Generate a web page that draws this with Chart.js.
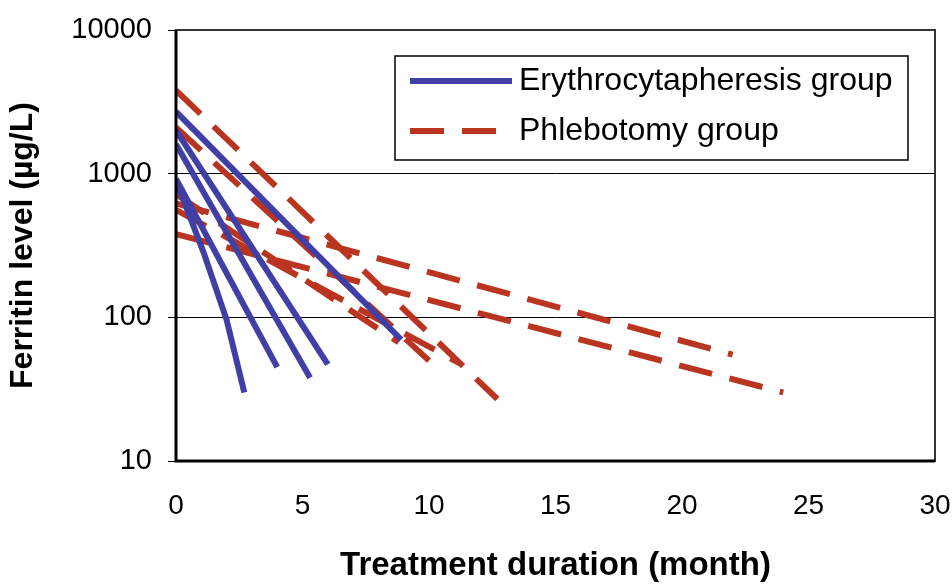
<!DOCTYPE html>
<html>
<head>
<meta charset="utf-8">
<script src="https://cdn.jsdelivr.net/npm/chart.js@4.4.1/dist/chart.umd.min.js"></script>
<style>
  html, body { margin:0; padding:0; background:#fff; }
  #wrap { position:relative; width:952px; height:584px; }
</style>
</head>
<body>
<div id="wrap"><canvas id="c"></canvas></div>
<script>
// ── axis ticks ──────────────────────────────────────────
const monthTicks = [0, 5, 10, 15, 20, 25, 30];
const ferritinTicks = [10, 100, 1000, 10000];

// ── erythrocytapheresis patients (month / ferritin µg/L) ──
const eryMonths   = [[0, 1.1, 2.0, 2.7], [0, 4.0], [0, 5.3], [0, 6.0], [0, 8.9]];
const eryFerritin = [[900, 280, 96, 30], [920, 45], [1600, 38], [2000, 47], [2700, 70]];

// ── phlebotomy patients ──
const phlMonths   = [[0, 12.7], [0, 10.0], [0, 8.8], [0, 11.2], [0, 22.0], [0, 24.0]];
const phlFerritin = [[3800, 27], [2100, 50], [720, 67], [560, 48], [620, 55], [380, 30]];

const BLUE = '#3f3fa6';
const RED = '#b9351f';
const FONT = "'Liberation Sans', Arial, sans-serif";

const toPts = (xs, ys) => xs.map((x, i) => ({ x, y: ys[i] }));

const datasets = [
  ...eryMonths.map((m, i) => ({
    label: 'Erythrocytapheresis group', data: toPts(m, eryFerritin[i]),
    borderColor: BLUE, borderWidth: 6, pointRadius: 0, showLine: true, fill: false
  })),
  ...phlMonths.map((m, i) => ({
    label: 'Phlebotomy group', data: toPts(m, phlFerritin[i]),
    borderColor: RED, borderWidth: 6, borderDash: [34, 18], pointRadius: 0, showLine: true, fill: false
  }))
];

// frame + legend box drawn on top of the plot
const framePlugin = {
  id: 'frame',
  afterDatasetsDraw(chart) {
    const { ctx, chartArea: a } = chart;
    ctx.save();
    ctx.strokeStyle = '#333';
    ctx.lineWidth = 2;
    ctx.strokeRect(a.left, a.top, a.right - a.left, a.bottom - a.top);
    ctx.strokeStyle = '#000';
    ctx.lineWidth = 3;
    ctx.beginPath();
    ctx.moveTo(a.left, a.top); ctx.lineTo(a.left, a.bottom); ctx.lineTo(a.right, a.bottom);
    ctx.stroke();

    // legend
    const bx = 395, by = 56, bw = 513, bh = 104;
    ctx.fillStyle = '#fff';
    ctx.fillRect(bx, by, bw, bh);
    ctx.strokeStyle = '#000';
    ctx.lineWidth = 1.5;
    ctx.strokeRect(bx, by, bw, bh);
    const rows = [
      ['Erythrocytapheresis group', BLUE, []],
      ['Phlebotomy group', RED, [34, 18]]
    ];
    rows.forEach(([txt, col, dash], i) => {
      const y = 81 + i * 50;
      ctx.strokeStyle = col; ctx.lineWidth = 6; ctx.setLineDash(dash);
      ctx.beginPath(); ctx.moveTo(410, y); ctx.lineTo(512, y); ctx.stroke();
      ctx.setLineDash([]);
      ctx.fillStyle = '#000';
      ctx.font = `32px ${FONT}`;
      ctx.textBaseline = 'middle';
      ctx.fillText(txt, 519, y);
    });
    ctx.restore();
  }
};

new Chart(document.getElementById('c'), {
  type: 'scatter',
  data: { datasets },
  options: {
    responsive: true, maintainAspectRatio: false, animation: false,
    layout: { padding: { left: 0, right: 17, top: 30, bottom: 0 } },
    plugins: { legend: { display: false }, tooltip: { enabled: false } },
    scales: {
      x: {
        type: 'linear', min: 0, max: 30,
        afterBuildTicks: s => { s.ticks = monthTicks.map(v => ({ value: v })); },
        afterFit: s => { s.height = 123; s.paddingLeft = 0; s.paddingRight = 0; },
        grid: { display: false, drawOnChartArea: false, drawTicks: true, tickLength: 8, tickColor: '#000' },
        border: { display: false },
        ticks: { color: '#000', font: { family: FONT, size: 28 }, padding: 20, maxRotation: 0 },
        title: { display: true, text: 'Treatment duration (month)', color: '#000',
                 font: { family: FONT, size: 33, weight: 'bold' }, padding: { top: 21, bottom: -2 } }
      },
      y: {
        type: 'logarithmic', min: 10, max: 10000,
        afterBuildTicks: s => { s.ticks = ferritinTicks.map(v => ({ value: v })); },
        afterFit: s => { s.width = 176; s.paddingTop = 0; s.paddingBottom = 0; },
        grid: { color: '#000', lineWidth: 1, drawTicks: true, tickLength: 8, tickColor: '#000' },
        border: { display: false },
        ticks: { color: '#000', font: { family: FONT, size: 29 }, padding: 16, callback: v => String(v) },
        title: { display: true, text: 'Ferritin level (µg/L)', color: '#000',
                 font: { family: FONT, size: 32, weight: 'bold' }, padding: { bottom: 8 } }
      }
    }
  },
  plugins: [framePlugin]
});
</script>
</body>
</html>
